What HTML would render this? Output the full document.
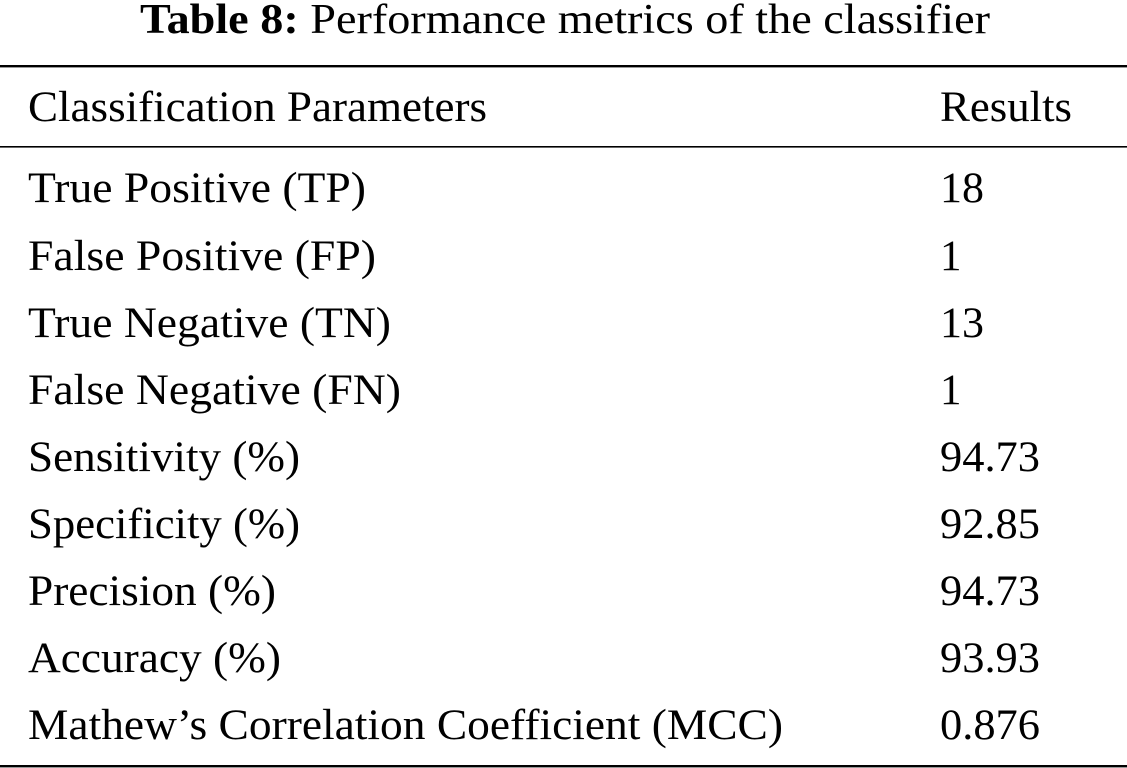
<!DOCTYPE html>
<html><head><meta charset="utf-8"><style>
html,body{margin:0;padding:0;background:#fff;}
svg{display:block;font-family:"Liberation Serif","Times New Roman",serif;}
</style></head><body>
<svg width="1127" height="768" viewBox="0 0 1127 768">
<text x="140" y="33" font-size="42" textLength="850" lengthAdjust="spacingAndGlyphs" fill="#000"><tspan font-weight="bold">Table 8:</tspan> Performance metrics of the classifier</text>
<rect x="0" y="65" width="1127" height="2.4" fill="#000"/>
<g font-size="43" fill="#000" lengthAdjust="spacingAndGlyphs">
<text x="28" y="121" textLength="459" lengthAdjust="spacingAndGlyphs">Classification Parameters</text>
<text x="940" y="121" textLength="132" lengthAdjust="spacingAndGlyphs">Results</text>
</g>
<rect x="0" y="146" width="1127" height="1.6" fill="#000"/>
<g font-size="43" fill="#000">
<text x="28" y="202" textLength="338" lengthAdjust="spacingAndGlyphs">True Positive (TP)</text>
<text x="940" y="202" textLength="44" lengthAdjust="spacingAndGlyphs">18</text>
<text x="28" y="270" textLength="348" lengthAdjust="spacingAndGlyphs">False Positive (FP)</text>
<text x="940" y="270">1</text>
<text x="28" y="337" textLength="363" lengthAdjust="spacingAndGlyphs">True Negative (TN)</text>
<text x="940" y="337" textLength="44" lengthAdjust="spacingAndGlyphs">13</text>
<text x="28" y="404" textLength="373" lengthAdjust="spacingAndGlyphs">False Negative (FN)</text>
<text x="940" y="404">1</text>
<text x="28" y="471" textLength="272" lengthAdjust="spacingAndGlyphs">Sensitivity (%)</text>
<text x="940" y="471" textLength="100" lengthAdjust="spacingAndGlyphs">94.73</text>
<text x="28" y="538" textLength="272" lengthAdjust="spacingAndGlyphs">Specificity (%)</text>
<text x="940" y="538" textLength="100" lengthAdjust="spacingAndGlyphs">92.85</text>
<text x="28" y="605" textLength="248" lengthAdjust="spacingAndGlyphs">Precision (%)</text>
<text x="940" y="605" textLength="100" lengthAdjust="spacingAndGlyphs">94.73</text>
<text x="28" y="672" textLength="253" lengthAdjust="spacingAndGlyphs">Accuracy (%)</text>
<text x="940" y="672" textLength="100" lengthAdjust="spacingAndGlyphs">93.93</text>
<text x="28" y="739" textLength="755" lengthAdjust="spacingAndGlyphs">Mathew’s Correlation Coefficient (MCC)</text>
<text x="940" y="739" textLength="100" lengthAdjust="spacingAndGlyphs">0.876</text>
</g>
<rect x="0" y="765" width="1127" height="2.4" fill="#000"/>
</svg>
</body></html>
